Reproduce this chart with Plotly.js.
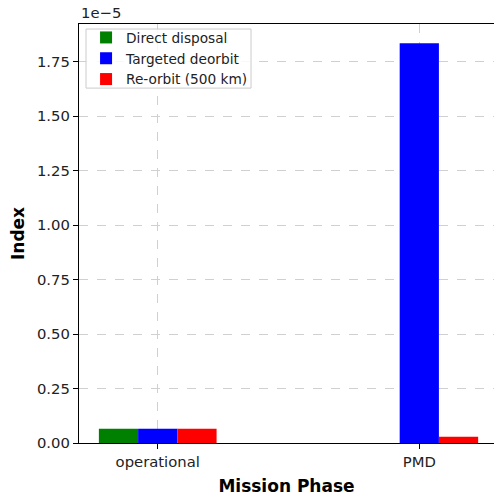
<!DOCTYPE html>
<html>
<head>
<meta charset="utf-8">
<script src="https://cdn.plot.ly/plotly-3.0.1.min.js"></script>
<style>html,body{margin:0;padding:0;background:#fff;}#chart{width:494px;height:496px;}</style>
</head>
<body>
<div id="chart"></div>
<script>
const categories = ["operational", "PMD"];
const seriesNames = ["Direct disposal", "Targeted deorbit", "Re-orbit (500 km)"];
const directDisposal = [0.065e-5, null];
const targetedDeorbit = [0.065e-5, 1.834e-5];
const reorbit500 = [0.065e-5, 0.029e-5];
const seriesColors = ["#008000", "#0000ff", "#ff0000"];
const yTickVals = [0, 0.25e-5, 0.5e-5, 0.75e-5, 1.0e-5, 1.25e-5, 1.5e-5, 1.75e-5];
const yTickText = ["0.00", "0.25", "0.50", "0.75", "1.00", "1.25", "1.50", "1.75"];
const barWidth = 0.15;
const offsets = [-0.15, 0, 0.15];
const allSeries = [directDisposal, targetedDeorbit, reorbit500];

const xIdx = categories.map((c, i) => i);
const traces = allSeries.map((vals, k) => ({
  type: "bar",
  name: seriesNames[k],
  x: xIdx.map(i => i + offsets[k]),
  y: vals,
  width: barWidth,
  marker: {color: seriesColors[k], line: {width: 0}},
  hoverinfo: "none"
}));

const font = {family: "DejaVu Sans", color: "#000"};
const layout = {
  width: 494, height: 496,
  margin: {l: 79, r: 0, t: 24, b: 52.5, pad: 0},
  paper_bgcolor: "#fff", plot_bgcolor: "#fff",
  barmode: "overlay",
  showlegend: true,
  font: font,
  xaxis: {
    range: [-0.301, 1.2856],
    tickmode: "array", tickvals: xIdx, ticktext: categories,
    tickfont: {family: "DejaVu Sans", size: 14.8, color: "#222"},
    ticks: "outside", ticklen: 5, tickwidth: 1, tickcolor: "#000",
    showline: true, linecolor: "#000", linewidth: 1.2, mirror: true,
    showgrid: true, gridcolor: "#d0d0d0", griddash: "dash", gridwidth: 1,
    zeroline: false, layer: "above traces",
    title: {text: "<b>Mission Phase</b>", font: {family: "DejaVu Sans", size: 17, color: "#000"}, standoff: 11}
  },
  yaxis: {
    range: [0, 1.9225e-5],
    tickmode: "array", tickvals: yTickVals, ticktext: yTickText,
    tickfont: {family: "DejaVu Sans", size: 14.8, color: "#222"},
    ticks: "outside", ticklen: 5, tickwidth: 1, tickcolor: "#000",
    showline: true, linecolor: "#000", linewidth: 1.2,
    showgrid: true, gridcolor: "#d0d0d0", griddash: "dash", gridwidth: 1,
    zeroline: false, layer: "above traces",
    title: {text: "<b>Index</b>", font: {family: "DejaVu Sans", size: 17, color: "#000"}, standoff: 8}
  },
  legend: {
    x: 0.017, y: 1.0047, xanchor: "left", yanchor: "top",
    bgcolor: "rgba(0,0,0,0)", borderwidth: 0,
    font: {family: "DejaVu Sans", size: 13.7, color: "#222"},
    tracegroupgap: 0, itemwidth: 30
  },
  shapes: [{
    type: "rect", xref: "paper", yref: "paper", layer: "above",
    x0: 0.0169, x1: 0.4145, y0: 0.847, y1: 0.988,
    fillcolor: "rgba(255,255,255,0.85)", line: {color: "#cccccc", width: 1}
  }],
  annotations: [{
    xref: "paper", yref: "paper", x: 0, y: 1, xanchor: "left", yanchor: "bottom",
    text: "1e\u22125", showarrow: false, yshift: 1,
    font: {family: "DejaVu Sans", size: 14.8, color: "#222"}
  }]
};

Plotly.newPlot("chart", traces, layout, {staticPlot: true, displayModeBar: false});
</script>
</body>
</html>
